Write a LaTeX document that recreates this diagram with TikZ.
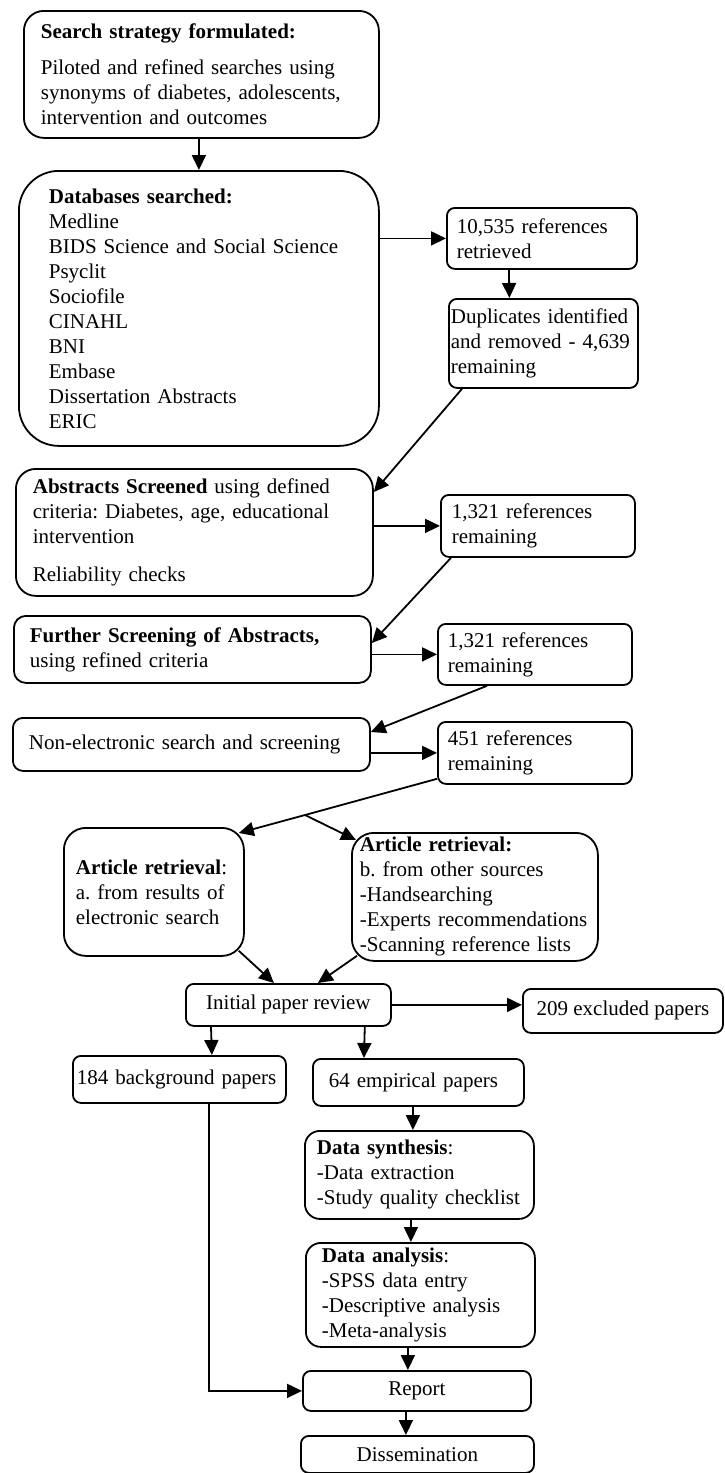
\documentclass[tikz,border=0pt]{standalone}
\usepackage{fontspec}
\setmainfont{Liberation Serif}
\usetikzlibrary{arrows.meta}
\frenchspacing

\begin{document}
\begin{tikzpicture}[x=1pt, y=-1pt, line width=1.8pt,
  >={Triangle[length=15pt,width=14pt]},
  box/.style={draw, rectangle, anchor=north west, align=left, inner ysep=2pt,
    rounded corners=8pt, font=\fontsize{21}{25}\selectfont},
  roundbox/.style={box, rounded corners=20pt},
  midbox/.style={box, align=center}]
\useasboundingbox (0,0) rectangle (724,1473);
\node[roundbox, inner xsep=17pt, text width=321pt, minimum height=127pt] (B0) at (23, 10)
  {\textbf{Search strategy formulated:}\\[11pt]Piloted and refined searches using\\synonyms of diabetes, adolescents,\\intervention and outcomes};
\node[roundbox, rounded corners=40pt, inner xsep=30pt, text width=300pt, minimum height=275pt] (B1) at (18, 170)
  {\textbf{Databases searched:}\\Medline\\BIDS Science and Social Science\\Psyclit\\Sociofile\\CINAHL\\BNI\\Embase\\Dissertation Abstracts\\ERIC};
\node[box, inner xsep=10pt, text width=170pt, minimum height=61pt] (B2) at (446, 207)
  {10,535 references\\retrieved};
\node[box, inner xsep=2pt, text width=185pt, minimum height=89pt] (B3) at (448, 298)
  {Duplicates identified\\and removed - 4,639\\remaining};
\node[roundbox, inner xsep=17pt, text width=323pt, minimum height=127pt] (B4) at (15, 468)
  {\textbf{Abstracts Screened} using defined\\criteria: Diabetes, age, educational\\intervention\\[13pt]Reliability checks};
\node[box, inner xsep=11pt, text width=172pt, minimum height=62pt] (B5) at (440, 494)
  {1,321 references\\remaining};
\node[box, rounded corners=12pt, inner xsep=16pt, text width=325pt, minimum height=67pt] (B6) at (13, 615)
  {\textbf{Further Screening of Abstracts,}\\using refined criteria};
\node[box, inner xsep=10pt, text width=174pt, minimum height=61pt] (B7) at (437, 623)
  {1,321 references\\remaining};
\node[box, rounded corners=10pt, inner xsep=16pt, text width=325pt, minimum height=53pt] (B8) at (12, 717)
  {Non-electronic search and screening};
\node[box, inner xsep=10pt, text width=174pt, minimum height=62pt] (B9) at (437, 721)
  {451 references\\remaining};
\node[roundbox, rounded corners=22pt, inner xsep=12pt, text width=156pt, minimum height=128pt] (B10) at (63, 827)
  {\textbf{Article retrieval}:\\a. from results of\\electronic search};
\node[roundbox, rounded corners=22pt, inner xsep=8pt, text width=230pt, minimum height=128pt] (B11) at (351, 832)
  {\textbf{Article retrieval:}\\b. from other sources\\-Handsearching\\-Experts recommendations\\-Scanning reference lists};
\node[midbox, minimum width=205pt, minimum height=42pt] (B12) at (185, 983) {Initial paper review};
\node[midbox, minimum width=200pt, minimum height=44pt] (B13) at (522, 988) {209 excluded papers};
\node[box, inner xsep=4pt, text width=205pt, minimum height=47pt] (B14) at (72, 1055) {184 background papers};
\node[box, inner xsep=16pt, text width=179pt, minimum height=47pt] (B15) at (312, 1058) {64 empirical papers};
\node[box, rounded corners=15pt, inner xsep=12pt, text width=205pt, minimum height=88pt] (B16) at (304, 1130)
  {\textbf{Data synthesis}:\\-Data extraction\\-Study quality checklist};
\node[box, rounded corners=15pt, inner xsep=16pt, text width=197pt, minimum height=104pt] (B17) at (305, 1242)
  {\textbf{Data analysis}:\\-SPSS data entry\\-Descriptive analysis\\-Meta-analysis};
\node[midbox, minimum width=228pt, minimum height=40pt] (B18) at (302, 1370) {Report};
\node[midbox, minimum width=233pt, minimum height=37pt] (B19) at (300, 1435) {Dissemination};
\coordinate (J) at (305, 815);
% search flow
\draw[->] (B1.north |- B0.south) -- (B1.north);
\draw[->] (B1.east |- B2.west) -- (B2.west);
\draw[->] ([xshift=-33pt]B2.south) -- ([xshift=-34pt]B3.north);
\draw[->] ([xshift=14pt]B3.south west) -- ([yshift=-24pt]B4.north east);
\draw[->] (B4.east |- B5.west) -- (B5.west);
\draw[->] ([xshift=11pt]B5.south west) -- ([yshift=-28pt]B6.north east);
\draw[->] (B6.east |- B7.west) -- (B7.west);
\draw[->] ([xshift=50pt]B7.south west) -- ([yshift=-15pt]B8.north east);
\draw[->] (B8.east |- B9.west) -- (B9.west);
% retrieval
\draw ([yshift=6pt]B9.south west) -- (J);
\draw[->] (J) -- ([xshift=-6pt,yshift=-6pt]B10.north east);
\draw[->] (J) -- ([xshift=5pt,yshift=-8pt]B11.north west);
\draw[->] ([xshift=-6pt,yshift=6pt]B10.south east) -- ([xshift=-14.5pt]B12.north);
\draw[->] ([xshift=6pt,yshift=6pt]B11.south west) -- ([xshift=29.5pt]B12.north);
\draw[->] (B12.east) -- (B12.east -| B13.west);
\draw[->] ([xshift=26pt]B12.south west) -- ([xshift=32.5pt]B14.north);
\draw[->] ([xshift=-27pt]B12.south east) -- ([xshift=-54.5pt]B15.north);
% analysis
\draw[->] ([xshift=-5.5pt]B15.south) -- ([xshift=-6.5pt]B16.north);
\draw[->] ([xshift=-8.5pt]B16.south) -- ([xshift=-9.5pt]B17.north);
\draw[->] ([xshift=-12.5pt]B17.south) -- ([xshift=-9pt]B18.north);
\draw[->] ([xshift=-11pt]B18.south) -- ([xshift=-11.5pt]B19.north);
\draw[->] ([xshift=29.5pt]B14.south) |- (B18.west);
\end{tikzpicture}
\end{document}
